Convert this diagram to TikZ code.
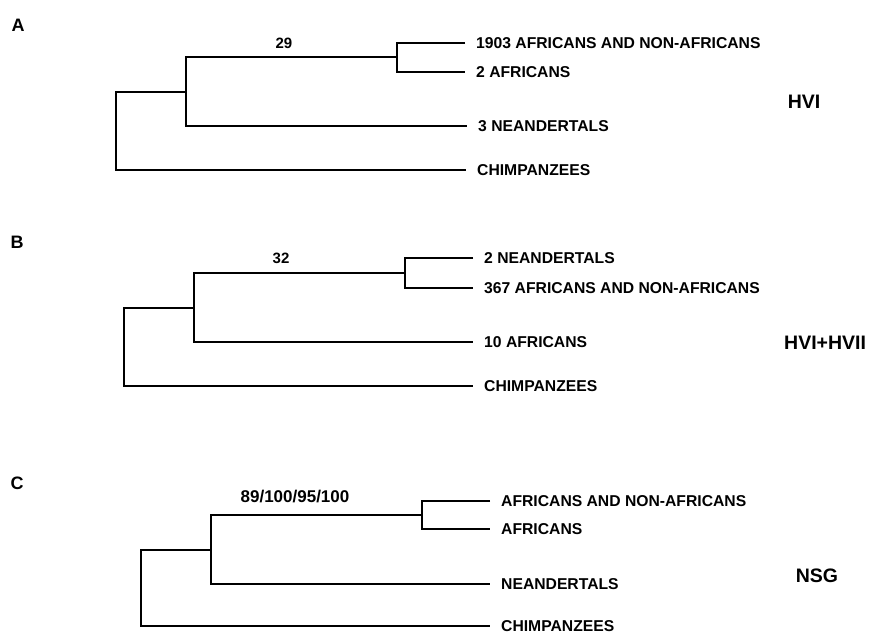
\documentclass[tikz,border=0pt]{standalone}
\usepackage{fontspec}
\setmainfont{Liberation Sans}

\begin{document}
\begin{tikzpicture}[x=1pt,y=-1pt]
\tikzstyle{every node}=[inner sep=0pt, font=\bfseries\fontsize{15.7}{18}\selectfont]
\tikzstyle{leaf}=[anchor=west, inner xsep=11pt]
\tikzstyle{panel}=[font=\bfseries\fontsize{18}{20}\selectfont]
\tikzstyle{gene}=[font=\bfseries\fontsize{19.5}{22}\selectfont]
\tikzstyle{support}=[font=\bfseries\fontsize{15}{18}\selectfont]
\tikzstyle{branch}=[line width=2.2pt, line join=miter]
\useasboundingbox (0,0) rectangle (871,633);

\node (pA) at (18,25) [panel] {A};
\coordinate (a0) at (116,92);
\coordinate (a1) at (186,92);
\coordinate (a2) at (397,57);
\node (a3) at (465,43) [leaf] {1903 AFRICANS AND NON-AFRICANS};
\node (a4) at (465,72) [leaf] {2 AFRICANS};
\node (a5) at (467,126) [leaf] {3 NEANDERTALS};
\node (a6) at (466,170) [leaf] {CHIMPANZEES};
\node (sA) at (284,43) [support] {29};
\node (gA) at (804,102) [gene] {HVI};
\draw[branch] (a1) -- (a0) |- (a6.west);
\draw[branch] (a2) -| (a1) |- (a5.west);
\draw[branch] (a3.west) -| (a2) |- (a4.west);

\node (pB) at (17,242) [panel] {B};
\coordinate (b0) at (124,308);
\coordinate (b1) at (194,308);
\coordinate (b2) at (405,273);
\node (b3) at (473,258) [leaf] {2 NEANDERTALS};
\node (b4) at (473,288) [leaf] {367 AFRICANS AND NON-AFRICANS};
\node (b5) at (473,342) [leaf] {10 AFRICANS};
\node (b6) at (473,386) [leaf] {CHIMPANZEES};
\node (sB) at (281,258) [support] {32};
\node (gB) at (784,343) [gene, anchor=west] {HVI+HVII};
\draw[branch] (b1) -- (b0) |- (b6.west);
\draw[branch] (b2) -| (b1) |- (b5.west);
\draw[branch] (b3.west) -| (b2) |- (b4.west);

\node (pC) at (17,483) [panel] {C};
\coordinate (c0) at (141,550);
\coordinate (c1) at (211,550);
\coordinate (c2) at (422,515);
\node (c3) at (490,501) [leaf] {AFRICANS AND NON-AFRICANS};
\node (c4) at (490,529) [leaf] {AFRICANS};
\node (c5) at (490,584) [leaf] {NEANDERTALS};
\node (c6) at (490,626) [leaf] {CHIMPANZEES};
\node (sC) at (295,497) [font=\bfseries\fontsize{17}{20}\selectfont] {89/100/95/100};
\node (gC) at (817,576) [gene] {NSG};
\draw[branch] (c1) -- (c0) |- (c6.west);
\draw[branch] (c2) -| (c1) |- (c5.west);
\draw[branch] (c3.west) -| (c2) |- (c4.west);
\end{tikzpicture}
\end{document}
